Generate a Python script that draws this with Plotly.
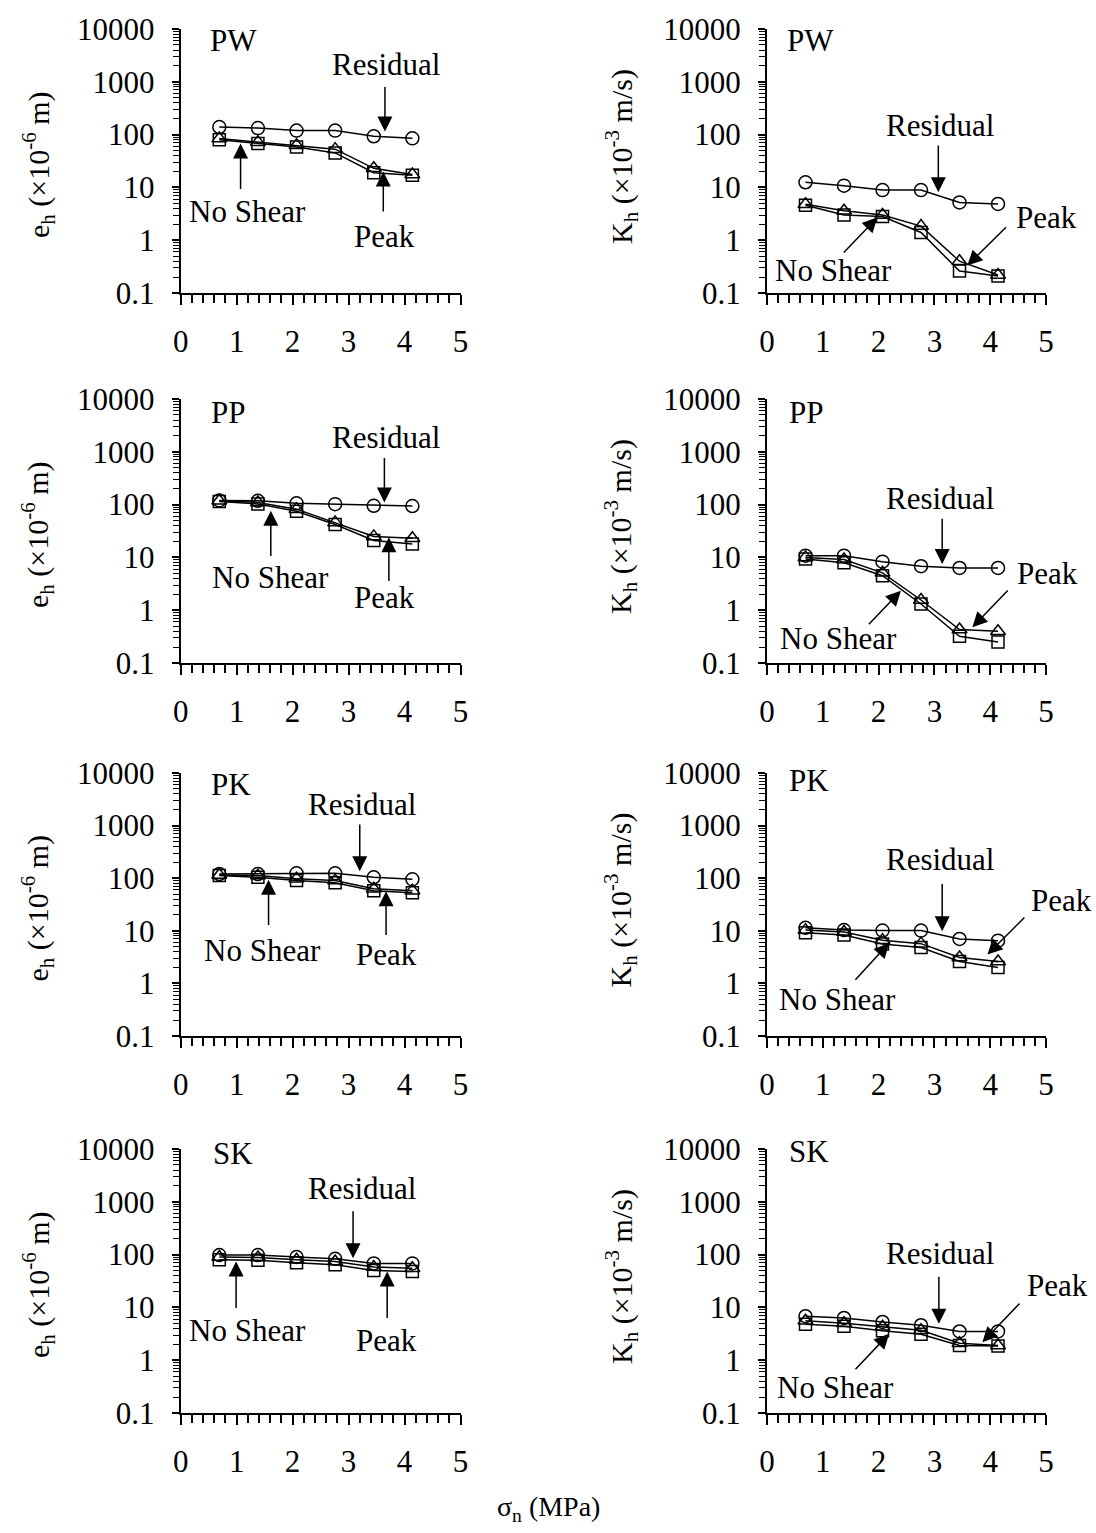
import numpy as np
import plotly.graph_objects as go

# ---------------- data ----------------
sigma_n = [0.69, 1.38, 2.07, 2.76, 3.45, 4.14]

pw_e_residual = [139, 133, 119, 119, 93, 85]
pw_e_peak = [84, 72, 63, 53, 23, 17.5]
pw_e_noshear = [80, 68, 58, 45, 19, 17]

pw_k_residual = [12.5, 10.8, 8.9, 8.9, 5.2, 4.85]
pw_k_peak = [4.8, 3.6, 3.0, 1.85, 0.40, 0.22]
pw_k_noshear = [4.6, 3.0, 2.8, 1.4, 0.26, 0.21]

pp_e_residual = [120, 118, 106, 102, 95, 94]
pp_e_peak = [118, 110, 82, 46, 25, 23]
pp_e_noshear = [115, 103, 75, 42, 21, 18]

pp_k_residual = [10.8, 10.8, 8.3, 6.8, 6.3, 6.3]
pp_k_peak = [10.0, 9.1, 5.1, 1.56, 0.43, 0.40]
pp_k_noshear = [9.3, 7.9, 4.5, 1.31, 0.32, 0.25]

pk_e_residual = [120, 120, 124, 124, 104, 95]
pk_e_peak = [115, 112, 98, 90, 63, 58]
pk_e_noshear = [112, 104, 90, 82, 58, 53]

pk_k_residual = [11.4, 10.3, 10.1, 10.1, 7.0, 6.5]
pk_k_peak = [10.3, 9.5, 6.6, 5.7, 3.1, 2.6]
pk_k_noshear = [9.2, 8.3, 5.6, 4.8, 2.6, 2.0]

sk_e_residual = [98, 98, 90, 83, 68, 68]
sk_e_peak = [90, 88, 80, 74, 58, 55]
sk_e_noshear = [80, 78, 70, 64, 50, 48]

sk_k_residual = [6.8, 6.3, 5.3, 4.6, 3.5, 3.5]
sk_k_peak = [5.6, 5.0, 4.3, 3.7, 2.1, 1.9]
sk_k_noshear = [4.8, 4.4, 3.6, 3.1, 1.9, 1.85]

panel_names = ["PW", "PW", "PP", "PP", "PK", "PK", "SK", "SK"]
panel_series = [
    (pw_e_residual, pw_e_peak, pw_e_noshear),
    (pw_k_residual, pw_k_peak, pw_k_noshear),
    (pp_e_residual, pp_e_peak, pp_e_noshear),
    (pp_k_residual, pp_k_peak, pp_k_noshear),
    (pk_e_residual, pk_e_peak, pk_e_noshear),
    (pk_k_residual, pk_k_peak, pk_k_noshear),
    (sk_e_residual, sk_e_peak, sk_e_noshear),
    (sk_k_residual, sk_k_peak, sk_k_noshear),
]

x_ticks = [0, 1, 2, 3, 4, 5]
y_tick_vals = [0.1, 1, 10, 100, 1000, 10000]
y_tick_text = ["0.1", "1", "10", "100", "1000", "10000"]
y_title_e = "e<sub>h</sub> (×10<sup>-6</sup> m)"
y_title_k = "K<sub>h</sub> (×10<sup>-3</sup> m/s)"
x_title = "σ<sub>n</sub> (MPa)"

# ---------------- layout geometry ----------------
W, H = 1096, 1533
FONT = "Liberation Serif, Times New Roman, serif"
FS = 31

col_dom = [[180.7 / W, 460.5 / W], [767.0 / W, 1046.0 / W]]
row_px = [(29, 293), (399, 663), (773, 1036), (1149, 1413)]
row_dom = [[1 - b / H, 1 - t / H] for t, b in row_px]

minor_y = [m * 10.0 ** d for d in range(-1, 4) for m in range(2, 10)]

# annotation placement per panel (data x, log10 y)
label_pos = [(0.95, 3.79), (0.78, 3.78), (0.84, 3.75), (0.69, 3.75),
             (0.90, 3.78), (0.75, 3.86), (0.93, 3.92), (0.75, 3.95)]
residual_text = [(3.68, 3.32), (3.11, 2.17), (3.67, 3.27), (3.11, 2.11),
                 (3.24, 3.40), (3.11, 2.36), (3.24, 3.26), (3.11, 2.02)]
residual_arrow = [((3.65, 2.06), (3.65, 2.93)), ((3.07, 0.91), (3.07, 1.82)),
                  ((3.64, 2.04), (3.64, 2.91)), ((3.14, 0.875), (3.14, 1.76)),
                  ((3.20, 2.13), (3.20, 3.05)), ((3.14, 0.99), (3.14, 1.92)),
                  ((3.08, 1.93), (3.08, 2.85)), ((3.08, 0.69), (3.08, 1.61))]
noshear_text = [(1.20, 0.545), (1.20, -0.577), (1.61, 0.62), (1.29, -0.545),
                (1.47, 0.62), (1.26, -0.31), (1.20, 0.57), (1.23, -0.51)]
noshear_arrow = [((1.07, 1.83), (1.07, 0.94)), ((1.98, 0.433), (1.35, -0.26)),
                 ((1.61, 1.885), (1.61, 1.0)), ((2.40, 0.37), (1.80, -0.293)),
                 ((1.57, 1.97), (1.57, 1.08)), ((2.19, 0.77), (1.56, 0.04)),
                 ((0.99, 1.87), (0.99, 0.96)), ((2.19, 0.50), (1.56, -0.20))]
peak_text = [(3.65, 0.07), (5.00, 0.433), (3.64, 0.24), (5.03, 0.686),
             (3.67, 0.54), (5.27, 1.57), (3.67, 0.38), (5.21, 1.42)]
peak_arrow = [((3.62, 1.30), (3.62, 0.515)), ((3.59, -0.48), (4.31, 0.275)),
              ((3.72, 1.38), (3.72, 0.525)), ((3.68, -0.325), (4.34, 0.40)),
              ((3.67, 1.75), (3.67, 0.89)), ((3.95, 0.55), (4.64, 1.28)),
              ((3.69, 1.68), (3.69, 0.77)), ((3.86, 0.34), (4.55, 1.10))]

fig = go.Figure()
annotations = []
layout = dict(
    width=W, height=H,
    margin=dict(l=0, r=0, t=0, b=0, autoexpand=False),
    paper_bgcolor="white", plot_bgcolor="white",
    showlegend=False,
    font=dict(family=FONT, size=FS, color="black"),
)

for i in range(8):
    r, c = divmod(i, 2)
    xa = "x" if i == 0 else f"x{i+1}"
    ya = "y" if i == 0 else f"y{i+1}"
    xkey = "xaxis" if i == 0 else f"xaxis{i+1}"
    ykey = "yaxis" if i == 0 else f"yaxis{i+1}"
    res, peak, ns = panel_series[i]
    common = dict(x=sigma_n, xaxis=xa, yaxis=ya, mode="lines+markers",
                  line=dict(color="black", width=1.5), cliponaxis=False)
    fig.add_trace(go.Scatter(y=ns, marker=dict(symbol="square-open", size=12,
                  color="black", line=dict(width=1.5)), **common))
    fig.add_trace(go.Scatter(y=peak, marker=dict(symbol="triangle-up-open", size=13,
                  color="black", line=dict(width=1.5)), **common))
    fig.add_trace(go.Scatter(y=res, marker=dict(symbol="circle-open", size=13,
                  color="black", line=dict(width=1.5)), **common))

    layout[xkey] = dict(
        domain=col_dom[c], anchor=ya, range=[0, 5], showgrid=False, zeroline=False,
        automargin=False,
        showline=True, linecolor="black", linewidth=2,
        tickmode="array", tickvals=x_ticks, ticks="outside", ticklen=10,
        tickwidth=1.5, tickcolor="black", ticklabelstandoff=10,
        tickfont=dict(family=FONT, size=FS, color="black"),
        minor=dict(dtick=0.2, tick0=0, ticks="outside", ticklen=8,
                   tickwidth=1.5, tickcolor="black", showgrid=False),
    )
    layout[ykey] = dict(
        domain=row_dom[r], anchor=xa, type="log", range=[-1, 4],
        automargin=False,
        showgrid=False, zeroline=False, showline=True, linecolor="black",
        linewidth=2, tickmode="array", tickvals=y_tick_vals, ticktext=y_tick_text,
        ticks="outside", ticklen=7, tickwidth=1.5, tickcolor="black",
        ticklabelstandoff=11,
        tickfont=dict(family=FONT, size=FS, color="black"),
        minor=dict(tickmode="array", tickvals=minor_y, ticks="outside", ticklen=6,
                   tickwidth=1, tickcolor="black", showgrid=False),
    )

    def txt(t, pos):
        annotations.append(dict(text=t, x=pos[0] / 5.0, y=(pos[1] + 1) / 5.0,
                                xref=f"{xa} domain", yref=f"{ya} domain",
                                showarrow=False, xanchor="center", yanchor="middle",
                                font=dict(family=FONT, size=FS, color="black")))

    def arr(spec):
        (hx, hy), (tx, ty) = spec
        annotations.append(dict(text="", x=hx, y=hy, xref=xa, yref=ya,
                                ax=tx, ay=ty, axref=xa, ayref=ya, showarrow=True,
                                arrowhead=2, arrowsize=2, arrowwidth=1.5,
                                arrowcolor="black", standoff=0, startstandoff=0))

    txt(panel_names[i], label_pos[i])
    txt("Residual", residual_text[i])
    arr(residual_arrow[i])
    txt("No Shear", noshear_text[i])
    arr(noshear_arrow[i])
    txt("Peak", peak_text[i])
    arr(peak_arrow[i])

    # y-axis titles
    ymid = (row_dom[r][0] + row_dom[r][1]) / 2
    if c == 0:
        annotations.append(dict(text=y_title_e, textangle=-90, xref="paper", yref="paper",
                                x=38 / W, y=ymid - 4 / H, showarrow=False,
                                xanchor="center", yanchor="middle",
                                font=dict(family=FONT, size=30, color="black")))
    else:
        annotations.append(dict(text=y_title_k, textangle=-90, xref="paper", yref="paper",
                                x=621 / W, y=ymid + 4 / H, showarrow=False,
                                xanchor="center", yanchor="middle",
                                font=dict(family=FONT, size=30, color="black")))

annotations.append(dict(text=x_title, xref="paper", yref="paper", x=548 / W,
                        y=1 - 1508 / H, showarrow=False, xanchor="center",
                        yanchor="middle", font=dict(family=FONT, size=28, color="black")))

layout["annotations"] = annotations
fig.update_layout(**layout)
fig.write_html("out.html")
